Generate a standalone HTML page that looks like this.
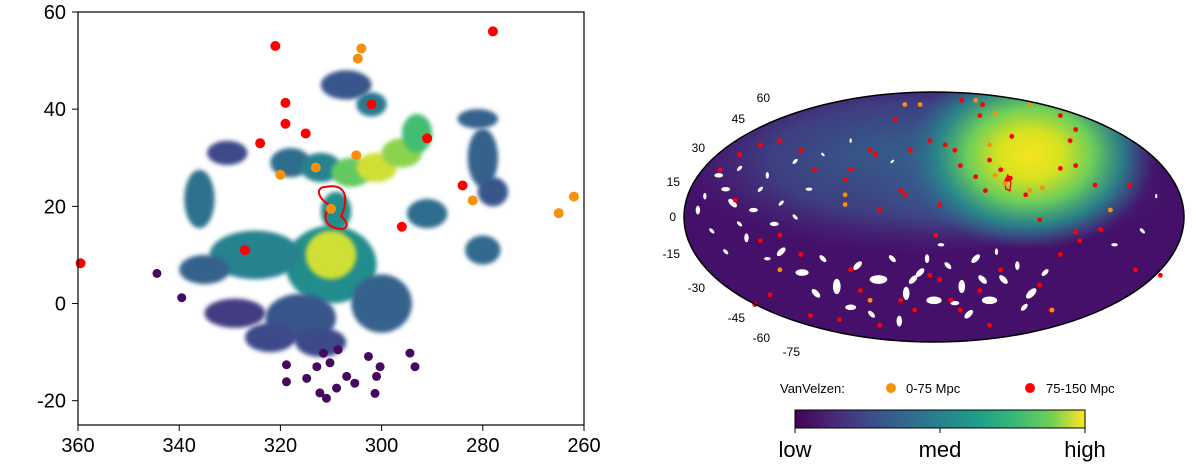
<!DOCTYPE html>
<html><head><meta charset="utf-8">
<style>
body{margin:0;background:#fff;width:1200px;height:472px;overflow:hidden;font-family:"Liberation Sans","DejaVu Sans",sans-serif}
svg{position:absolute;left:0;top:0}
</style></head>
<body>
<svg id="fig" width="1200" height="472" viewBox="0 0 1200 472">
<defs>
<filter id="blur4" x="-50%" y="-50%" width="200%" height="200%"><feGaussianBlur stdDeviation="2"/></filter>
<linearGradient id="viridis" x1="0" x2="1" y1="0" y2="0">
<stop offset="0" stop-color="#440154"/><stop offset="0.13" stop-color="#482878"/><stop offset="0.25" stop-color="#3e4a89"/>
<stop offset="0.38" stop-color="#31688e"/><stop offset="0.5" stop-color="#26828e"/><stop offset="0.63" stop-color="#1f9e89"/>
<stop offset="0.75" stop-color="#35b779"/><stop offset="0.88" stop-color="#6ece58"/><stop offset="1" stop-color="#fde725"/>
</linearGradient>
<radialGradient id="hot" cx="0.5" cy="0.5" r="0.5">
<stop offset="0" stop-color="#f5e51f"/><stop offset="0.25" stop-color="#d8e21f"/><stop offset="0.5" stop-color="#6cce59"/>
<stop offset="0.75" stop-color="#24908c" stop-opacity="0.8"/><stop offset="1" stop-color="#31688e" stop-opacity="0"/>
</radialGradient>
<radialGradient id="band" cx="0.5" cy="0.5" r="0.5">
<stop offset="0" stop-color="#2f6e8e" stop-opacity="0.95"/><stop offset="0.6" stop-color="#3b528b" stop-opacity="0.7"/><stop offset="1" stop-color="#472a7a" stop-opacity="0"/>
</radialGradient>
<clipPath id="ellclip"><ellipse cx="934" cy="217" rx="250" ry="125"/></clipPath>
<clipPath id="leftclip"><rect x="78" y="12" width="506" height="413"/></clipPath>
</defs>
<g id="left"></g>
<g id="right"></g>
</svg>
<script>
const NS="http://www.w3.org/2000/svg";
function mk(tag,attrs,parent){const e=document.createElementNS(NS,tag);for(const k in attrs)e.setAttribute(k,attrs[k]);parent.appendChild(e);return e;}
function viridis(t){const s=[[68,1,84],[72,40,120],[62,74,137],[49,104,142],[38,130,142],[31,158,137],[53,183,121],[110,206,88],[253,231,37]];t=Math.max(0,Math.min(1,t))*(s.length-1);const i=Math.min(Math.floor(t),s.length-2),f=t-i;const c=s[i].map((v,k)=>Math.round(v+(s[i+1][k]-v)*f));return `rgb(${c})`;}

// ---------- LEFT PANEL DATA ----------
const xTicks=[360,340,320,300,280,260];
const yTicks=[60,40,20,0,-20];
const blobLon=[307,302,330.5,336,318,312,306,301,296,293,281,280,278,291,280,309,310,310,325,335,329,316,300,312,322];
const blobLat=[45,41,31,21.5,29,28,27,28,31,35,38,30,23,18.5,11,19,8,10,10,7,-2,-3,0,-8,-7];
const blobRx=[5,3,4,3,4,4,4,4,4,3,4,3,3,4,3.5,3,9,5,9,5,6,7,6,5,5];
const blobRy=[3,2.5,2.5,6,3,3,3,3,3,4,2,6,3,3,3,4,8,5,5,3,3,5,6,3,3];
const blobVal=[0.3,0.45,0.25,0.42,0.4,0.5,0.85,0.96,0.9,0.78,0.35,0.35,0.3,0.4,0.38,0.55,0.55,0.96,0.5,0.35,0.2,0.3,0.35,0.25,0.25];
const dotLon=[318.8,318.8,314.8,312.8,310.2,312.2,308.9,310.9,306.9,305.3,302.6,300.3,301,301.3,294.4,293.4,311.5,308.6,344.4,339.5];
const dotLat=[-12.6,-16.1,-15.4,-13,-12.2,-18.4,-17.4,-19.5,-15,-16.4,-10.9,-13,-15,-18.5,-10.2,-13,-10.2,-9.5,6.2,1.2];
const redLon=[321,278,319,319,315,324,302,291,284,296,327,359.5];
const redLat=[53,56,41.3,37,35,33,41,34,24.3,15.8,11,8.3];
const orgLon=[304,304.7,313,320,305,282,265,262,310];
const orgLat=[52.5,50.4,28,26.5,30.5,21.2,18.6,22,19.5];

const L=document.getElementById('left');
const lx=v=>78+(360-v)/100*506;
const ly=v=>12+(60-v)/85*413;
const gB=mk('g',{'clip-path':'url(#leftclip)'},L);


for(let i=0;i<blobLon.length;i++){
  const e=mk('ellipse',{cx:lx(blobLon[i]),cy:ly(blobLat[i]),rx:blobRx[i]*5.06,ry:blobRy[i]*4.86,fill:viridis(blobVal[i]),filter:'url(#blur4)'},gB);
  
  
}
for(let i=0;i<dotLon.length;i++){const c=mk('circle',{cx:lx(dotLon[i]),cy:ly(dotLat[i]),r:4.5,fill:viridis(0.03)},gB);

}
const ct=mk('path',{d:`M${lx(311)},${ly(24)} C${lx(306)},${ly(25)} ${lx(307)},${ly(20)} ${lx(308)},${ly(18)} C${lx(306)},${ly(16)} ${lx(307)},${ly(15)} ${lx(309)},${ly(15.5)} C${lx(311)},${ly(16)} ${lx(312)},${ly(18)} ${lx(310)},${ly(20)} C${lx(313)},${ly(22)} ${lx(313)},${ly(24)} ${lx(311)},${ly(24)}Z`,fill:'none',stroke:'#e00',"stroke-width":2},L);


for(let i=0;i<redLon.length;i++){const c=mk('circle',{cx:lx(redLon[i]),cy:ly(redLat[i]),r:5,fill:'#f00'},L);

}
for(let i=0;i<orgLon.length;i++){const c=mk('circle',{cx:lx(orgLon[i]),cy:ly(orgLat[i]),r:5,fill:'#f7900a'},L);

}
const fr=mk('rect',{x:78,y:12,width:506,height:413,fill:'none',stroke:'#000','stroke-width':1.2},L);


xTicks.forEach(v=>{mk('line',{x1:lx(v),x2:lx(v),y1:425,y2:431,stroke:'#000'},L);
const t=mk('text',{x:lx(v),y:452,'text-anchor':'middle','font-size':20},L);t.textContent=v;

});
yTicks.forEach(v=>{mk('line',{x1:72,x2:78,y1:ly(v),y2:ly(v),stroke:'#000'},L);
const t=mk('text',{x:66,y:ly(v)+7,'text-anchor':'end','font-size':20},L);t.textContent=v;

});

// ---------- RIGHT PANEL DATA ----------
const latTicks=[60,45,30,15,0,-15,-30,-45,-60,-75];
const latTickY=[98,119,148,182,217,254,288,318,338,352];
const latTickX=[770,745,705,680,676,680,705,745,770,800];
const holeX=[-110,-95,-80,-70,-55,-40,-30,-20,-10,0,10,20,30,40,50,60,70,-60,-45,-25,25,5,-85,45,80,-150,-140,-120,-100,-130,-160,-165,-110,-90,-80,-60,-30,130,150,160,-15,15,35,-5,65,-155,-145,-135,-125,-115,-150,-170,-140,-120,-100];
const holeY=[-25,-40,-30,-50,-35,-45,-30,-55,-40,-60,-35,-50,-30,-60,-45,-35,-55,-65,-70,-75,-70,-20,-55,-25,-40,20,-5,30,40,5,-10,15,10,20,45,55,40,-20,-10,15,-45,-62,-45,-30,-65,30,10,-15,20,-5,-25,5,35,-30,0];
const holeS=[5,6,4,7,5,8,4,6,5,7,4,6,5,7,5,4,6,5,4,5,5,3,5,3,4,4,3,3,3,4,3,3,3,3,2,2,2,3,3,2,5,4,5,4,4,4,5,4,3,4,3,4,3,3,3];
const rRedX=[56,35,20,33,40,48,53,66,91,102,98,116,55,37,30,19,15,8,-3,-17,-28,-42,-46,-24,-21,4,-39,-60,-64,-86,-96,-111,-125,-140,-154,-143,-125,-111,-96,-60,-53,-46,-24,-3,4,12,19,33,48,76,91,105,120,145,163,141,102,91,-68,-89,-118,-129,-39,-14,40,84,1,102,76];
const rRedY=[58,81,84,73,41,34,27,16,35,37,55,23,28,19,29,37,48,52,55,48,70,45,48,19,16,9,5,34,27,34,48,55,52,45,34,12,-17,-13,-27,-38,-53,-60,-60,-42,-45,-60,-67,-53,-38,-49,-27,-17,-9,-38,-42,23,63,73,-74,-71,-56,-63,-78,-67,-78,-67,-13,-11,-2];
const rOrgX=[30,69,44,40,44,51,69,78,127,-64,-64,-111,-46,85,-10,-21];
const rOrgY=[84,81,75,52,30,24,19,21,5,16,9,-38,-60,-67,81,81];
const cbLabels=["low","med","high"];

const R=document.getElementById('right');
const mx=v=>934+v/180*250;
const my=v=>217-v/90*125;
const bg=mk('g',{'clip-path':'url(#ellclip)'},R);


mk('rect',{x:680,y:90,width:510,height:260,fill:'#45106a'},bg);
mk('ellipse',{cx:920,cy:160,rx:250,ry:95,fill:'url(#band)'},bg);
mk('ellipse',{cx:1000,cy:190,rx:170,ry:60,fill:'url(#band)',opacity:0.7},bg);
mk('ellipse',{cx:1030,cy:155,rx:125,ry:95,fill:'url(#hot)'},bg);
for(let i=0;i<holeX.length;i++){const cx=mx(holeX[i]),cy=my(holeY[i]);const h=mk('ellipse',{cx:cx,cy:cy,rx:holeS[i]*1.1,ry:holeS[i]*0.55,fill:'#fff',transform:`rotate(${(i%4)*45-45} ${cx} ${cy})`},bg);

}
const rc=mk('path',{d:`M${mx(51)},${my(26)} l3,-6 l3,8 l-1,8 l-4,-2 z`,fill:'none',stroke:'#e00','stroke-width':1.3},R);


for(let i=0;i<rRedX.length;i++){const c=mk('circle',{cx:mx(rRedX[i]),cy:my(rRedY[i]),r:2.4,fill:'#f00'},R);

}
for(let i=0;i<rOrgX.length;i++){const c=mk('circle',{cx:mx(rOrgX[i]),cy:my(rOrgY[i]),r:2.4,fill:'#f7900a'},R);

}
const el=mk('ellipse',{cx:934,cy:217,rx:250,ry:125,fill:'none',stroke:'#000','stroke-width':1.5},R);


latTicks.forEach((v,i)=>{const t=mk('text',{x:latTickX[i],y:latTickY[i]+4,'text-anchor':'end','font-size':12},R);t.textContent=v;

});
const lg=mk('g',{},R);


let t=mk('text',{x:780,y:393,'font-size':13},lg);t.textContent='VanVelzen:';
mk('circle',{cx:891,cy:388,r:5,fill:'#f7900a'},lg);
t=mk('text',{x:906,y:393,'font-size':13},lg);t.textContent='0-75 Mpc';
mk('circle',{cx:1030,cy:388,r:5,fill:'#f00'},lg);
t=mk('text',{x:1046,y:393,'font-size':13},lg);t.textContent='75-150 Mpc';
const cb=mk('rect',{x:795,y:410,width:290,height:18,fill:'url(#viridis)',stroke:'#000','stroke-width':1},R);


cbLabels.forEach((s,i)=>{const x=795+i*145;mk('line',{x1:x,x2:x,y1:428,y2:433,stroke:'#000'},R);
const tt=mk('text',{x:x,y:457,'text-anchor':'middle','font-size':22},R);tt.textContent=s;

});
</script>
</body></html>
